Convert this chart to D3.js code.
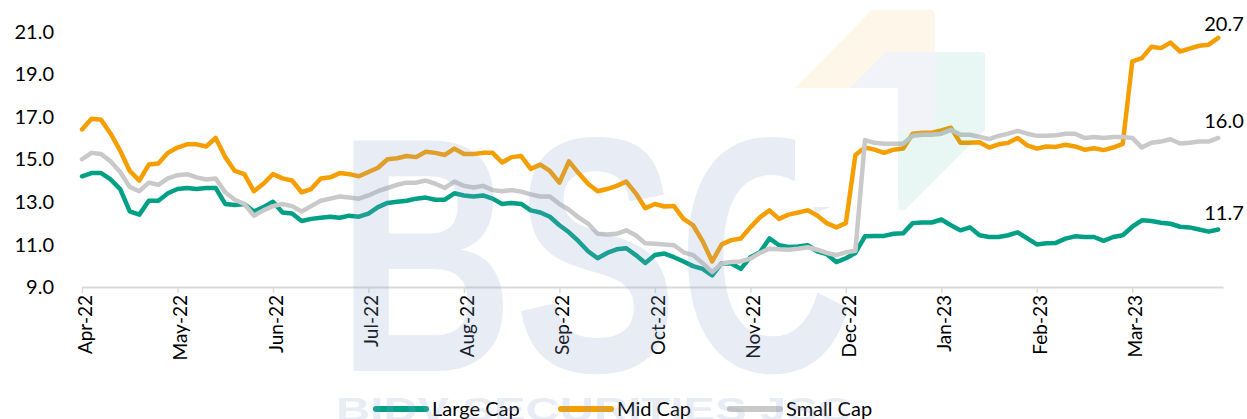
<!DOCTYPE html>
<html>
<head>
<meta charset="utf-8">
<script src="https://cdn.jsdelivr.net/npm/d3@7"></script>
<style>
  body { margin: 0; background: #fff; }
  svg { display: block; font-family: Lato, "Open Sans", sans-serif; }
</style>
</head>
<body>
<svg id="chart" width="1247" height="419"></svg>
<script>
// month labels on the x axis, data is ~10 readings per month
const monthLabels = ["Apr-22","May-22","Jun-22","Jul-22","Aug-22","Sep-22","Oct-22","Nov-22","Dec-22","Jan-23","Feb-23","Mar-23"];
const pointsPerMonth = 10;
const yTicks = [9, 11, 13, 15, 17, 19, 21];

const largeCap = [
  14.2,14.35,14.35,14.05,13.6,12.55,12.4,13.05,13.05,13.4,
  13.6,13.65,13.6,13.65,13.65,12.9,12.85,12.9,12.55,12.75,
  13.0,12.5,12.45,12.1,12.2,12.25,12.3,12.25,12.35,12.3,
  12.45,12.75,12.95,13.0,13.05,13.15,13.2,13.1,13.1,13.4,
  13.3,13.25,13.3,13.15,12.9,12.95,12.9,12.6,12.5,12.3,
  11.9,11.57,11.15,10.68,10.35,10.6,10.77,10.82,10.5,10.13,
  10.5,10.57,10.4,10.2,9.98,9.85,9.55,10.12,10.1,9.85,
  10.4,10.63,11.28,10.96,10.88,10.9,10.96,10.68,10.54,10.17,
  10.35,10.6,11.38,11.4,11.4,11.5,11.52,12.0,12.03,12.03,
  12.17,11.9,11.66,11.8,11.43,11.35,11.35,11.43,11.57,11.28,
  11.0,11.05,11.07,11.27,11.38,11.35,11.35,11.17,11.35,11.43,
  11.83,12.13,12.1,12.02,11.97,11.83,11.8,11.7,11.6,11.7
];
const midCap = [
  16.4,16.9,16.85,16.2,15.4,14.45,14.0,14.75,14.8,15.3,
  15.55,15.7,15.7,15.6,16.0,15.1,14.45,14.3,13.5,13.85,
  14.3,14.1,14.0,13.45,13.6,14.1,14.15,14.35,14.3,14.2,
  14.4,14.6,15.0,15.05,15.15,15.1,15.35,15.3,15.2,15.5,
  15.25,15.25,15.3,15.3,14.85,15.1,15.15,14.55,14.75,14.45,
  13.9,14.9,14.35,13.85,13.5,13.6,13.75,13.95,13.4,12.7,
  12.9,12.78,12.8,12.2,11.9,11.15,10.2,11.0,11.2,11.28,
  11.8,12.27,12.6,12.2,12.4,12.5,12.6,12.36,12.0,11.8,
  12.0,15.2,15.55,15.45,15.3,15.45,15.5,16.2,16.25,16.25,
  16.35,16.48,15.77,15.77,15.8,15.55,15.7,15.77,16.0,15.65,
  15.5,15.6,15.58,15.68,15.6,15.45,15.52,15.43,15.55,15.72,
  19.6,19.75,20.28,20.22,20.48,20.06,20.2,20.33,20.38,20.7
];
const smallCap = [
  15.0,15.3,15.25,14.9,14.4,13.7,13.5,13.9,13.8,14.1,
  14.25,14.3,14.15,14.05,14.1,13.45,13.1,12.9,12.35,12.6,
  12.8,12.9,12.8,12.55,12.8,13.05,13.15,13.25,13.2,13.15,
  13.3,13.5,13.65,13.8,13.9,13.9,14.0,13.85,13.65,13.95,
  13.75,13.67,13.75,13.55,13.5,13.55,13.48,13.35,13.25,13.25,
  12.9,12.63,12.27,11.98,11.5,11.47,11.5,11.66,11.43,11.05,
  11.03,11.0,10.96,10.63,10.5,10.12,9.7,10.1,10.17,10.2,
  10.33,10.6,10.8,10.77,10.75,10.8,10.87,10.75,10.6,10.5,
  10.63,10.7,15.9,15.77,15.73,15.73,15.73,16.1,16.15,16.15,
  16.2,16.38,16.15,16.15,16.05,15.95,16.1,16.2,16.33,16.2,
  16.1,16.1,16.13,16.2,16.2,16.0,16.05,16.0,16.05,16.05,
  16.0,15.55,15.78,15.83,15.94,15.74,15.78,15.83,15.83,16.0
];

const seriesNames = ["Large Cap", "Mid Cap", "Small Cap"];
const seriesColors = ["#00a086", "#f59e00", "#c9c9c9"];
const seriesData = [largeCap, midCap, smallCap];

const svg = d3.select("#chart");

const x = d3.scaleLinear().domain([0, 11.95]).range([82, 1223]);
const y = d3.scaleLinear().domain([9, 21]).range([287, 31.5]);

// y labels, no axis line
svg.append("g")
  .selectAll("text")
  .data(yTicks)
  .enter().append("text")
  .attr("x", 54)
  .attr("y", d => y(d))
  .attr("dy", "0.36em")
  .attr("text-anchor", "end")
  .attr("fill", "#000")
  .style("font-size", "20px")
  .text(d => d3.format(".1f")(d));

// x axis
const xAxis = svg.append("g")
  .attr("transform", `translate(0,${y(9)})`)
  .call(d3.axisBottom(x)
    .tickValues(d3.range(monthLabels.length))
    .tickFormat(i => monthLabels[i])
    .tickSize(6)
    .tickSizeOuter(0));

xAxis.select(".domain").attr("stroke", "#d9d9d9").attr("stroke-width", 2);
xAxis.selectAll(".tick line").attr("stroke", "#d9d9d9").attr("stroke-width", 1.5);
xAxis.selectAll(".tick text")
  .attr("transform", "rotate(-90)")
  .attr("x", -8)
  .attr("y", 0)
  .attr("dy", "0.5em")
  .attr("text-anchor", "end")
  .attr("fill", "#000")
  .style("font-size", "19px")
  .style("font-family", "Lato, 'Open Sans', sans-serif");

// lines
const line = d3.line()
  .x((d, i) => x(i / pointsPerMonth))
  .y(d => y(d));

svg.append("g")
  .selectAll("path")
  .data(seriesData)
  .enter().append("path")
  .attr("d", d => line(d))
  .attr("fill", "none")
  .attr("stroke", (d, i) => seriesColors[i])
  .attr("stroke-width", 4.5)
  .attr("stroke-linejoin", "round")
  .attr("stroke-linecap", "round");

// last values
svg.append("g")
  .selectAll("text")
  .data(seriesData)
  .enter().append("text")
  .attr("x", 1224)
  .attr("y", d => Math.max(31, y(d[d.length - 1]) - 10))
  .attr("text-anchor", "middle")
  .attr("fill", "#000")
  .style("font-size", "20px")
  .text(d => d3.format(".1f")(d[d.length - 1]));

// legend
const legendX = [373, 558, 727];
const legend = svg.append("g")
  .selectAll("g")
  .data(seriesNames)
  .enter().append("g")
  .attr("transform", (d, i) => `translate(${legendX[i]},409)`);

legend.append("line")
  .attr("x1", 3).attr("x2", 53)
  .attr("stroke", (d, i) => seriesColors[i])
  .attr("stroke-width", 6)
  .attr("stroke-linecap", "round");

legend.append("text")
  .attr("x", 59)
  .attr("dy", "0.36em")
  .attr("fill", "#000")
  .style("font-size", "20px")
  .text(d => d);

// watermark (semi transparent, on top like the original)
const defs = svg.append("defs");
const mask = defs.append("mask").attr("id", "logoHole");
mask.append("rect").attr("width", 1247).attr("height", 419).attr("fill", "#fff");
mask.append("rect").attr("x", 795).attr("y", 88).attr("width", 103).attr("height", 119)
  .attr("rx", 6).attr("fill", "#000");

const wm = svg.append("g").style("pointer-events", "none");

wm.append("path")
  .attr("d", "M795,88 L868,14 Q870,10 876,10 L931,10 Q935,10 935,16 L935,52 L886,52 L850,88 Z")
  .attr("fill", "#f5a623").attr("opacity", 0.1);
wm.append("path")
  .attr("d", "M850,88 L886,52 L935,52 L935,133 L898,133 L898,88 Z")
  .attr("fill", "#8fa3cc").attr("opacity", 0.13);
wm.append("path")
  .attr("d", "M935,52 L981,52 Q985,52 985,56 L985,130 L905,210 Q898,212 898,205 L898,133 L935,133 Z")
  .attr("fill", "#00a087").attr("opacity", 0.09);

wm.append("text")
  .attr("x", 337)
  .attr("y", 371)
  .attr("textLength", 518)
  .attr("lengthAdjust", "spacingAndGlyphs")
  .attr("fill", "#8fa3cc")
  .attr("opacity", 0.2)
  .attr("mask", "url(#logoHole)")
  .style("font-family", "'Liberation Sans', Arial, sans-serif")
  .style("font-weight", "bold")
  .style("font-size", "335px")
  .text("BSC");

wm.append("text")
  .attr("x", 336)
  .attr("y", 421)
  .attr("textLength", 516)
  .attr("lengthAdjust", "spacingAndGlyphs")
  .attr("fill", "#8fa3cc")
  .attr("opacity", 0.2)
  .style("font-family", "'Liberation Sans', Arial, sans-serif")
  .style("font-weight", "bold")
  .style("font-size", "34px")
  .text("BIDV SECURITIES JSC");
</script>
</body>
</html>
